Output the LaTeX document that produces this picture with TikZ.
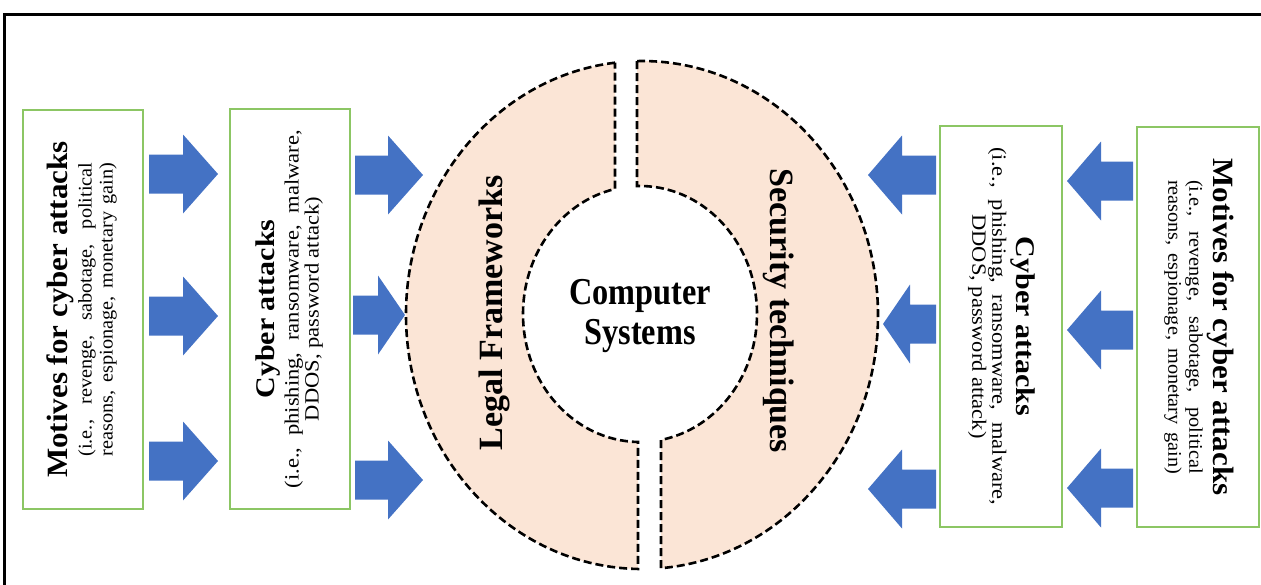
\documentclass[tikz,border=0pt]{standalone}
\usepackage{fontspec}
\setmainfont{Liberation Serif}
\usetikzlibrary{calc}
\definecolor{ringfill}{RGB}{251,229,214}
\definecolor{arrowblue}{RGB}{68,114,196}
\definecolor{boxgreen}{RGB}{140,198,100}
% #1 tail x, #2 centre y, #3 signed length, #4 signed head length
\newcommand\blockarrow[4]{%
  \fill[arrowblue] (#1,#2-19.5) -- (#1+#3-#4,#2-19.5) -- (#1+#3-#4,#2-39.5)
    -- (#1+#3,#2) -- (#1+#3-#4,#2+39.5) -- (#1+#3-#4,#2+19.5) -- (#1,#2+19.5) -- cycle;}
\newcommand\motivestext{\scalebox{1}[0.95]{\fontsize{20.3}{22}\selectfont
  \begin{tabular}{@{}c@{}}
  {\fontsize{31}{32}\selectfont\bfseries Motives for cyber attacks}\\[3pt]
  \makebox[294pt][s]{(i.e., revenge, sabotage, political}\\
  \makebox[294pt][s]{reasons, espionage, monetary gain)}
  \end{tabular}}}
\newcommand\cybertext{\scalebox{1}[0.9]{\fontsize{22.5}{21.6}\selectfont
  \begin{tabular}{@{}c@{}}
  {\fontsize{30}{32}\selectfont\bfseries Cyber attacks}\\[5pt]
  \makebox[358pt][s]{(i.e., phishing, ransomware, malware,}\\
  DDOS, password attack)
  \end{tabular}}}
\begin{document}
\begin{tikzpicture}[x=1pt,y=-1pt,
  greenbox/.style={draw=boxgreen,line width=1.5pt,fill=white,inner sep=0pt},
  ringhalf/.style={fill=ringfill,draw=black,line width=2.6pt,dash pattern=on 8pt off 4pt},
  ringlabel/.style={font=\fontsize{34}{38}\selectfont\bfseries,inner sep=0pt}]
\useasboundingbox (0,0) rectangle (1261,584);
\clip (0,0) rectangle (1261,584);
% frame
\draw[line width=2.6pt] (1275,14.7) -- (4.3,14.7) -- (4.3,600);
% boxes
\node[greenbox,rotate=90,minimum width=399pt,minimum height=120pt] (lmot) at (83,309.5) {\motivestext};
\node[greenbox,rotate=90,minimum width=400pt,minimum height=120pt] (lcyb) at (290,309) {\cybertext};
\node[greenbox,rotate=-90,minimum width=401pt,minimum height=122pt] (rcyb) at (1001,326.5) {\cybertext};
\node[greenbox,rotate=-90,minimum width=400pt,minimum height=122pt] (rmot) at (1198,327) {\motivestext};
% ring halves
\path[ringhalf] ($(642,315)+(263.43:236 and 254)$)
  arc[start angle=263.43,end angle=90.97,x radius=236,y radius=254]
  -- ($(640,314)+(90.98:117 and 128)$)
  arc[start angle=90.98,end angle=257.66,x radius=117,y radius=128] -- cycle;
\path[ringhalf] ($(642,315)+(268.79:236 and 254)$)
  -- ($(640,314)+(268.53:117 and 128)$)
  arc[start angle=268.53,end angle=439.66,x radius=117,y radius=128]
  -- ($(642,315)+(85.38:236 and 254)$)
  arc[start angle=85.38,end angle=-91.21,x radius=236,y radius=254] -- cycle;
\node[ringlabel,rotate=90] (legal) at (494,313) {Legal Frameworks};
\node[ringlabel,rotate=-90] (secu) at (779,311) {Security techniques};
\node[inner sep=0pt] (comp) at (640,316)
  {\scalebox{0.85}[1]{\fontsize{38}{40}\selectfont\bfseries
   \begin{tabular}{@{}c@{}}Computer\\Systems\end{tabular}}};
% arrows
\blockarrow{149}{174}{69}{35}
\blockarrow{149}{316}{69}{35}
\blockarrow{149}{461}{69}{35}
\blockarrow{355}{175}{68}{35}
\blockarrow{353}{315}{52}{27}
\blockarrow{355}{480}{68}{35}
\blockarrow{936}{175}{-68}{-34}
\blockarrow{936}{324}{-53}{-27}
\blockarrow{936}{489}{-68}{-34}
\blockarrow{1133}{181}{-66}{-34}
\blockarrow{1133}{330}{-66}{-34}
\blockarrow{1133}{488}{-66}{-34}
\end{tikzpicture}
\end{document}
